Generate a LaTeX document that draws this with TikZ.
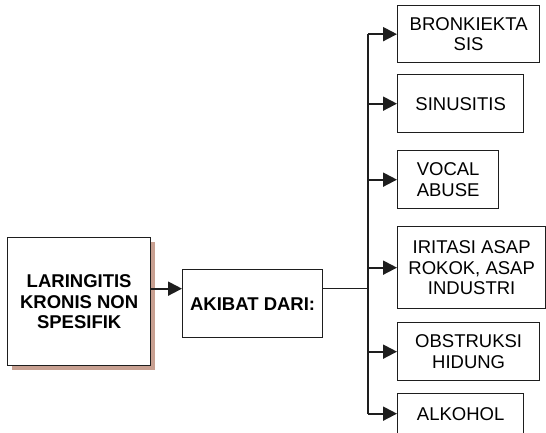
\documentclass[tikz,border=0pt]{standalone}
\usepackage{fontspec}
\setmainfont{Liberation Sans}
\usepackage{tikz}
\usetikzlibrary{arrows.meta, positioning, shadows}
\definecolor{ink}{RGB}{30,30,30}
\definecolor{shade}{RGB}{200,160,145}

\begin{document}
\begin{tikzpicture}[
  x=1pt, y=-1pt,
  font=\fontsize{18.5}{20.5}\selectfont,
  box/.style  = {draw=ink, fill=white, line width=1.3pt, inner sep=0pt,
                 align=center, anchor=north west},
  bbox/.style = {box, font=\fontsize{18.5}{20.5}\selectfont\bfseries},
  sbox/.style = {bbox, drop shadow={shadow xshift=4pt, shadow yshift=-4pt,
                 fill=shade, opacity=1}},
  arr/.style  = {-{Triangle[length=14pt, width=14pt]}, draw=ink, line width=2pt},
  wire/.style = {draw=ink, line width=2pt},
  link/.style = {draw=ink, line width=1.1pt}
]
\useasboundingbox (0,0) rectangle (546,432);

\node[sbox, minimum width=143pt, minimum height=128pt] (lk) at (7,237)
  {LARINGITIS\\KRONIS NON\\SPESIFIK};
\node[bbox, minimum width=140pt, minimum height=68pt]  (ak) at (182,269)
  {AKIBAT DARI:};

\node[box, minimum width=142pt, minimum height=57pt] (b1) at (397,5)   {BRONKIEKTA\\SIS};
\node[box, minimum width=126pt, minimum height=58pt] (b2) at (397,74)  {SINUSITIS};
\node[box, minimum width=101pt, minimum height=58pt] (b3) at (397,150) {VOCAL\\ABUSE};
\node[box, minimum width=148pt, minimum height=82pt] (b4) at (397,226) {IRITASI ASAP\\ROKOK, ASAP\\INDUSTRI};
\node[box, minimum width=142pt, minimum height=58pt] (b5) at (397,322) {OBSTRUKSI\\HIDUNG};
\node[box, minimum width=126pt, minimum height=40pt] (b6) at (397,393) {ALKOHOL};

\coordinate (hub)   at ([yshift=15pt]ak.west);
\coordinate (trunk) at (368,0);

\draw[arr]  (lk.east |- hub) -- (hub);
\draw[link] (ak.east |- hub) -- (trunk |- hub);
\draw[wire] (trunk |- b1.west) -- (trunk |- b6.west);
\foreach \b in {b1,b2,b3,b4,b5,b6}
  \draw[arr] (trunk |- \b.west) -- (\b.west);
\end{tikzpicture}
\end{document}
